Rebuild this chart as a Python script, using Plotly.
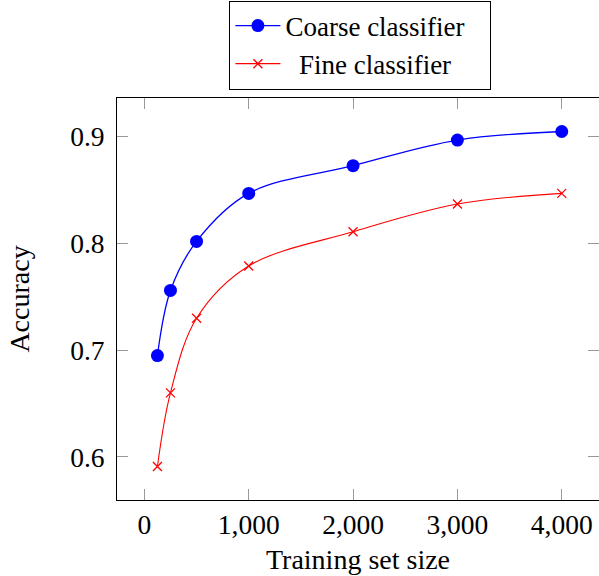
import plotly.graph_objects as go

train_size = [125, 250, 500, 1000, 2000, 3000, 4000]
coarse_acc = [0.695, 0.756, 0.802, 0.847, 0.873, 0.897, 0.905]
fine_acc = [0.591, 0.660, 0.730, 0.779, 0.811, 0.837, 0.847]

x_tickvals = [0, 1000, 2000, 3000, 4000]
x_ticktext = ["0", "1,000", "2,000", "3,000", "4,000"]
y_tickvals = [0.6, 0.7, 0.8, 0.9]
y_ticktext = ["0.6", "0.7", "0.8", "0.9"]

FONT = "Liberation Serif, Times New Roman, serif"
TICK_SIZE = 27.5
TEXT_SIZE = 28
LEGEND_SIZE = 27
NB = "\u00a0"

fig = go.Figure()
fig.add_trace(go.Scatter(
    x=train_size, y=coarse_acc, name="Coarse classifier" + NB * 3,
    mode="lines+markers",
    line=dict(color="#0000ff", width=1.3, shape="spline", smoothing=1.0),
    marker=dict(symbol="circle", size=13, color="#0000ff"),
))
fig.add_trace(go.Scatter(
    x=train_size, y=fine_acc, name=NB * 2 + "Fine classifier" + NB * 3,
    mode="lines+markers",
    line=dict(color="#ff0000", width=1.1, shape="spline", smoothing=1.0),
    marker=dict(symbol="x-thin", size=9, color="#ff0000",
                line=dict(color="#ff0000", width=1.3)),
))

fig.update_layout(
    width=599, height=576,
    margin=dict(l=117, r=0, t=98, b=76, autoexpand=False),
    paper_bgcolor="white", plot_bgcolor="white",
    font=dict(family=FONT, size=TEXT_SIZE, color="black"),
    showlegend=True,
    legend=dict(
        x=0.505, xanchor="center", y=1.1318, yanchor="middle",
        bordercolor="black", borderwidth=1, bgcolor="white",
        font=dict(family=FONT, size=LEGEND_SIZE),
        itemwidth=45,
        tracegroupgap=0,
    ),
)
fig.update_xaxes(
    range=[-262.5, 4357],
    tickvals=x_tickvals, ticktext=x_ticktext,
    ticks="inside", ticklen=11, tickcolor="#999999", tickwidth=1,
    showline=True, linecolor="black", linewidth=1, mirror="ticks",
    showgrid=False, zeroline=False,
    title=dict(text="Training set size", font=dict(family=FONT, size=TEXT_SIZE), standoff=10),
    tickfont=dict(family=FONT, size=TICK_SIZE),
)
fig.update_yaxes(
    range=[0.5596, 0.9364],
    tickvals=y_tickvals, ticktext=y_ticktext,
    ticks="inside", ticklen=11, tickcolor="#999999", tickwidth=1,
    showline=True, linecolor="black", linewidth=1, mirror="ticks",
    showgrid=False, zeroline=False,
    ticklabelstandoff=6,
    title=dict(text="Accuracy", font=dict(family=FONT, size=TEXT_SIZE), standoff=32),
    tickfont=dict(family=FONT, size=TICK_SIZE),
)

fig.write_html(
    "out.html",
    config={"displayModeBar": False},
    post_script="document.body.style.margin='0';document.body.style.overflow='hidden';document.documentElement.style.overflow='hidden';",
)
